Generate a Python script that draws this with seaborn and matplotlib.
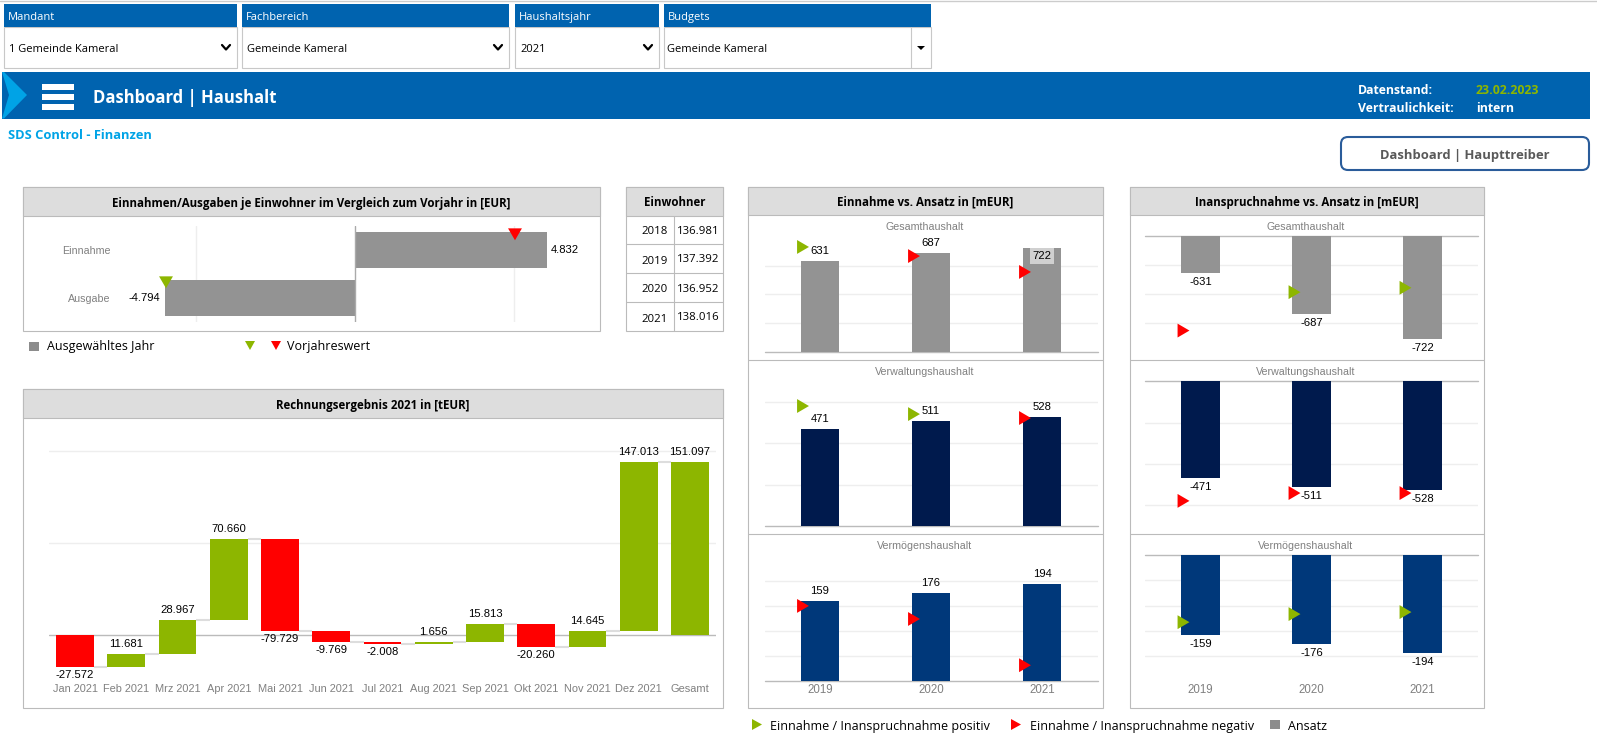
import numpy as np
import seaborn as sns
import matplotlib.pyplot as plt
from matplotlib.patches import Rectangle, Polygon, FancyBboxPatch

sns.set_theme(style='white')
plt.rcParams['font.family'] = ['Liberation Sans', 'DejaVu Sans']

W, H = 1597, 749
BLUE = '#0063AF'
CYAN = '#00A3E6'
GREEN = '#8DB600'
RED = '#FF0000'
GREY = '#939393'
NAVY = '#001A4D'
MIDBLUE = '#00387A'
LINE = '#BBBBBB'
GRIDC = '#EEEEEE'
LABEL = '#808080'
UI = 'Open Sans'
VALUE_SIZE = 8.1

# einnahmen / ausgaben je einwohner
ea_cats = ['Einnahme', 'Ausgabe']
ea_values = [4832, -4794]
ea_prior = [4027, -4757]

# einwohner
ew_years = ['2018', '2019', '2020', '2021']
ew_values = ['136.981', '137.392', '136.952', '138.016']

# rechnungsergebnis
months = ['Jan 2021', 'Feb 2021', 'Mrz 2021', 'Apr 2021', 'Mai 2021', 'Jun 2021', 'Jul 2021',
          'Aug 2021', 'Sep 2021', 'Okt 2021', 'Nov 2021', 'Dez 2021']
month_values = [-27572, 11681, 28967, 70660, -79729, -9769, -2008, 1656, 15813, -20260, 14645, 147013]
total_label = 'Gesamt'
total_value = 151097

# haushalte
years = ['2019', '2020', '2021']
ein_gesamt = [631, 687, 722]
ein_gesamt_prior = [729, 666, 556]
ein_verw = [471, 511, 528]
ein_verw_prior = [581, 542, 523]
ein_verm = [159, 176, 194]
ein_verm_prior = [150, 124, 32]
ina_gesamt = [-631, -687, -722]
ina_gesamt_prior = [-710, -657, -651]
ina_verw = [-471, -511, -528]
ina_verw_prior = [-580, -542, -542]
ina_verm = [-159, -176, -194]
ina_verm_prior = [-133, -117, -113]

# triangle shapes, a bit taller/wider than the stock markers
tri_right = np.array([(-6, -7), (6, 0), (-6, 7)])
tri_down = np.array([(-7, 6), (7, 6), (0, -6)])

fig = plt.figure(figsize=(W / 100, H / 100), dpi=100, facecolor='white')


def px_axes(left, top, right, bottom):
    ax = fig.add_axes([left / W, 1 - bottom / H, (right - left) / W, (bottom - top) / H])
    ax.patch.set_alpha(0)
    return ax


def de(v):
    return f'{v:,}'.replace(',', '.')


chrome = fig.add_axes([0, 0, 1, 1])
chrome.set(xlim=(0, W), ylim=(H, 0))
chrome.axis('off')


def box(x0, y0, x1, y1, fc='white', ec='none', lw=0.8):
    chrome.add_patch(Rectangle((x0, y0), x1 - x0, y1 - y0, fc=fc, ec=ec, lw=lw))


def ui(x, y, s, size=8, color='black', weight='normal', ha='left', family=UI):
    chrome.text(x, y, s, fontsize=size, color=color, fontweight=weight, ha=ha, va='center', family=family)


def tri(pts, color):
    chrome.add_patch(Polygon(pts, fc=color, ec='none'))


# filter row
chrome.plot([0, W], [1, 1], color='#CCCCCC', lw=1)
filters = [('Mandant', '1 Gemeinde Kameral', 4, 237), ('Fachbereich', 'Gemeinde Kameral', 242, 509),
           ('Haushaltsjahr', '2021', 515, 659), ('Budgets', 'Gemeinde Kameral', 664, 931)]
for name, val, x0, x1 in filters:
    box(x0, 27, x1, 67.5, ec='#C8C8C8')
    box(x0, 4, x1, 27, fc=BLUE)
    ui(x0 + 4, 17.5, name, size=8, color='white')
    ui(x0 + (3 if name == 'Budgets' else 5), 49.5, val, size=8)
    if name != 'Budgets':
        chrome.plot([x1 - 15, x1 - 11, x1 - 7], [45, 49.5, 45], color='black', lw=1.6)
chrome.plot([911, 911], [27, 67.5], color='#C8C8C8', lw=0.8)
tri([(917, 46), (925, 46), (921, 50)], 'black')

# banner
box(2, 72, 1590, 118.5, fc=BLUE)
tri([(2, 72), (4, 72), (27, 95), (4, 118.5), (2, 118.5), (9, 95)], CYAN)
for y0 in (84, 94, 104):
    box(42, y0, 74, y0 + 5.5, fc='white')
ui(93, 98, 'Dashboard | Haushalt', size=12, color='white', weight='bold')
ui(1358, 90.5, 'Datenstand:', size=8.8, color='white', weight='bold')
ui(1358, 108, 'Vertraulichkeit:', size=8.8, color='white', weight='bold')
ui(1476, 90.5, '23.02.2023', size=8.8, color=GREEN, weight='bold')
ui(1476, 108, 'intern', size=8.8, color='white', weight='bold')
ui(8, 135.5, 'SDS Control - Finanzen', size=9.3, color=CYAN, weight='bold')
chrome.add_patch(FancyBboxPatch((1341, 137), 248, 33, boxstyle='round,pad=0,rounding_size=7',
                                fc='white', ec='#2A5C9A', lw=1.5))
ui(1465, 155.5, 'Dashboard | Haupttreiber', size=9.4, color='#595959', weight='bold', ha='center')

# panels
panels = [(23, 187, 600, 331, 216, 'Einnahmen/Ausgaben je Einwohner im Vergleich zum Vorjahr in [EUR]'),
          (626, 187, 723, 331, 216, 'Einwohner'),
          (23, 389, 723, 708, 418, 'Rechnungsergebnis 2021 in [tEUR]'),
          (748, 187, 1103, 708, 215, 'Einnahme vs. Ansatz in [mEUR]'),
          (1129.5, 187, 1484, 708, 215, 'Inanspruchnahme vs. Ansatz in [mEUR]')]
for x0, y0, x1, y1, yh, title in panels:
    box(x0, y0, x1, y1, ec=LINE)
    box(x0, y0, x1, yh, fc='#DDDDDD', ec=LINE)
    ui((x0 + x1) / 2, (y0 + yh) / 2 + 1.5, title, size=8.3, weight='bold', ha='center')
for x0, x1 in ((748, 1103), (1129.5, 1484)):
    for y in (360, 534):
        chrome.plot([x0, x1], [y, y], color=LINE, lw=0.8)

# einwohner table
for y in (244, 273, 302):
    chrome.plot([626, 723], [y, y], color=LINE, lw=0.8)
chrome.plot([673.5, 673.5], [216, 331], color=LINE, lw=0.8)
for y, yr, val in zip((232, 261, 290, 319), ew_years, ew_values):
    ui(654.5, y, yr, size=8.2, ha='center')
    ui(676.5, y - 1, val, size=8.2)

# legends
box(29, 342, 38.5, 350.5, fc='#8C8C8C')
ui(47, 346.5, 'Ausgewähltes Jahr', size=9)
tri([(245, 341), (255, 341), (250, 350)], GREEN)
tri([(271, 341), (281, 341), (276, 350)], RED)
ui(287, 346.5, 'Vorjahreswert', size=9)
tri([(752, 719), (762, 724.5), (752, 730)], GREEN)
ui(770, 726.5, 'Einnahme / Inanspruchnahme positiv', size=9)
tri([(1011, 719), (1021, 724.5), (1011, 730)], RED)
ui(1029.5, 726.5, 'Einnahme / Inanspruchnahme negativ', size=9)
box(1270, 720, 1280, 729, fc='#8C8C8C')
ui(1288, 726.5, 'Ansatz', size=9)


def clean(ax):
    ax.set(xlabel=None, ylabel=None)
    sns.despine(ax=ax, left=True, bottom=True)
    ax.set_axisbelow(True)
    ax.tick_params(left=False, bottom=False, length=0)


# einnahmen/ausgaben chart
ax = px_axes(112, 226, 590, 322)
sns.barplot(x=ea_values, y=ea_cats, orient='y', color=GREY, saturation=1, width=0.75, linewidth=0, ax=ax)
sns.scatterplot(x=ea_prior, y=np.arange(2) - 0.327, hue=np.array(ea_prior) > np.array(ea_values),
                palette={True: GREEN, False: RED}, marker=tri_down, s=100, linewidth=0, legend=False,
                ax=ax, zorder=5, clip_on=False)
clean(ax)
ax.set_xlim(-243 * 25.17, 235 * 25.17)
ax.set_ylim(1.5, -0.5)
ax.set_xticks([-4000, 4000])
ax.tick_params(labelbottom=False)
ax.grid(axis='x', color=GRIDC, lw=1)
ax.axvline(0, color='#AAAAAA', lw=1)
ax.tick_params(axis='y', labelsize=7.7, labelcolor=LABEL, pad=1)
for i, v in enumerate(ea_values):
    ax.annotate(de(v), (v, i), xytext=(4 if v > 0 else -4, 0), textcoords='offset pixels',
                ha='left' if v > 0 else 'right', va='center', fontsize=VALUE_SIZE, color='black')

# waterfall
w_labels = months + [total_label]
w_values = np.array(month_values + [total_value])
running = np.cumsum(month_values)
w_bottom = np.r_[0, running[:-1], 0]
w_top = np.r_[running, total_value]
per_px = 869.6
ax = px_axes(49.4, 440, 715.6, 684)
is_up = w_values > 0
bar_w = 0.74
sns.barplot(x=np.array(w_labels)[is_up], y=w_values[is_up], bottom=w_bottom[is_up], order=w_labels,
            color=GREEN, saturation=1, width=bar_w, linewidth=0, ax=ax)
sns.barplot(x=np.array(w_labels)[~is_up], y=w_values[~is_up], bottom=w_bottom[~is_up], order=w_labels,
            color=RED, saturation=1, width=bar_w, linewidth=0, ax=ax)
clean(ax)
ax.set_xlim(-0.5, 12.5)
ax.set_ylim(-(684 - 635.3) * per_px, (635.3 - 440) * per_px)
ax.set_yticks([80000, 160000])
ax.tick_params(labelleft=False)
ax.tick_params(axis='x', labelsize=7.9, labelcolor=LABEL, pad=0)
ax.grid(axis='y', color=GRIDC, lw=1)
ax.axhline(0, color=LINE, lw=1, zorder=0.5)
ax.hlines(w_top[:-1], np.arange(12) + bar_w / 2, np.arange(1, 13) - bar_w / 2, color='#DDDDDD', lw=1.5)
for i, v in enumerate(w_values):
    up = v > 0
    ax.annotate(de(int(v)), (i, max(w_bottom[i], w_top[i]) if up else min(w_bottom[i], w_top[i])),
                xytext=(0, 10 if up else -8), textcoords='offset pixels', ha='center', va='center',
                fontsize=VALUE_SIZE, color='black')


def budget(rect, base_px, per_px, values, prior, color, title, title_x, title_y, start=0, ticks=(), show_years=False):
    left, top, right, bottom = rect
    ax = px_axes(left, top, right, bottom)
    sns.barplot(x=years, y=values, color=color, saturation=1, width=0.348, linewidth=0, ax=ax)
    values = np.array(values)
    prior = np.array(prior)
    sns.scatterplot(x=np.arange(3) - 0.153, y=prior, hue=prior > values, palette={True: GREEN, False: RED},
                    marker=tri_right, s=100, linewidth=0, legend=False, ax=ax, zorder=5, clip_on=False)
    clean(ax)
    ax.set_xlim(-0.5, 2.5)
    ax.set_ylim(start - (bottom - base_px) * per_px, start + (base_px - top) * per_px)
    ax.set_yticks(list(ticks))
    ax.tick_params(labelleft=False, labelbottom=show_years)
    ax.tick_params(axis='x', labelsize=8.3, labelcolor=LABEL, pad=0)
    ax.grid(axis='y', color=GRIDC, lw=1)
    ax.axhline(start, color=LINE, lw=1, clip_on=False, zorder=0.5)
    for i, v in enumerate(values):
        boxed = v == 722
        dy = -8 if boxed else (10 if v > 0 else -9)
        ax.annotate(str(v), (i, v), xytext=(0, dy), textcoords='offset pixels', ha='center', va='center',
                    fontsize=VALUE_SIZE, color='black', zorder=6,
                    bbox=dict(fc='#D0D0D0', ec='none', pad=2) if boxed else None)
    ui(title_x, title_y, title, size=7.7, color=LABEL, ha='center', family='Liberation Sans')
    return ax


budget((764.5, 225, 1097.5, 352.3), 352.3, 6.92, ein_gesamt, ein_gesamt_prior, GREY, 'Gesamthaushalt', 925, 227,
       ticks=(200, 400, 600))
budget((764.5, 385, 1097.5, 526.3), 526.3, 4.83, ein_verw, ein_verw_prior, NAVY, 'Verwaltungshaushalt', 925, 372,
       ticks=(200, 400, 600))
budget((764.5, 560, 1097.5, 684), 681.3, 1.99, ein_verm, ein_verm_prior, MIDBLUE, 'Vermögenshaushalt', 925, 546,
       ticks=(50, 100, 150, 200), show_years=True)
budget((1145, 236.3, 1478, 358), 236.3, 1.379, ina_gesamt, ina_gesamt_prior, GREY, 'Gesamthaushalt', 1305.5, 227,
       start=-580, ticks=(-620, -660, -700))
budget((1145, 381.3, 1478, 530), 381.3, 4.85, ina_verw, ina_verw_prior, NAVY, 'Verwaltungshaushalt', 1305.5, 372,
       ticks=(-200, -400, -600))
budget((1145, 555, 1478, 684), 555, 1.98, ina_verm, ina_verm_prior, MIDBLUE, 'Vermögenshaushalt', 1305.5, 546,
       ticks=(-50, -100, -150, -200), show_years=True)

fig.savefig('out.png', dpi=100, facecolor='white')
